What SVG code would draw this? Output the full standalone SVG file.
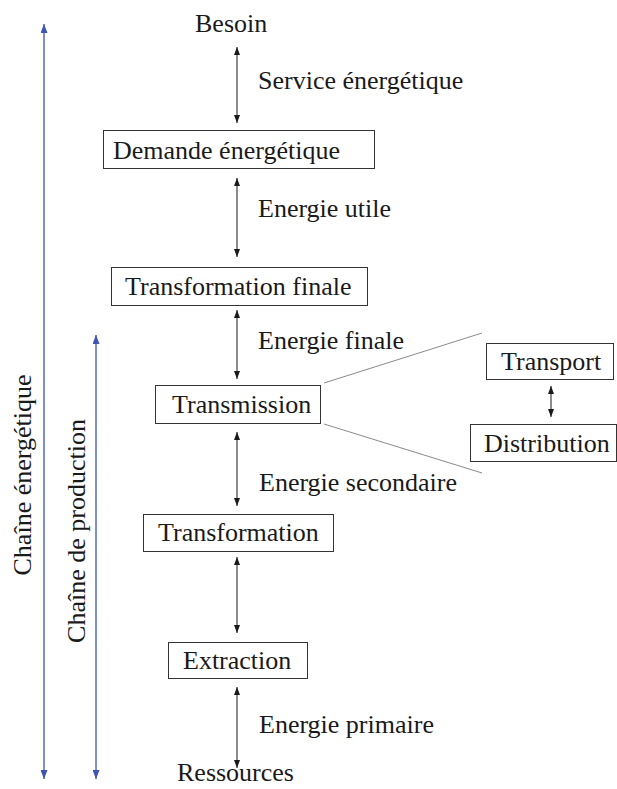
<svg xmlns="http://www.w3.org/2000/svg" width="617" height="789" viewBox="0 0 617 789" font-family="Liberation Serif, DejaVu Serif, serif">
  <style>
    text { font-family: 'Liberation Serif', 'DejaVu Serif', serif; }
    .t { font-size: 26px; fill: #1a1a1a; }
    .box { fill: #ffffff; stroke: #333333; stroke-width: 1; }
    .link { stroke: #1a1a1a; stroke-width: 1; fill: none; marker-start: url(#ah); marker-end: url(#ah); }
    .chain { stroke: #5468c0; stroke-width: 1.5; fill: none; marker-start: url(#bh); marker-end: url(#bh); }
    .side { stroke: #8a8a8a; stroke-width: 1; fill: none; }
  </style>
  <defs>
    <marker id="ah" viewBox="0 0 8 6" refX="8" refY="3" markerWidth="8" markerHeight="6" markerUnits="userSpaceOnUse" orient="auto-start-reverse">
      <path d="M0,0 L8,3 L0,6 Z" fill="#1a1a1a"/>
    </marker>
    <marker id="bh" viewBox="0 0 9 7" refX="9" refY="3.5" markerWidth="9" markerHeight="7" markerUnits="userSpaceOnUse" orient="auto-start-reverse">
      <path d="M0,0 L9,3.5 L0,7 Z" fill="#3f55b5"/>
    </marker>
  </defs>

  <!-- chain scope arrows -->
  <g id="chaine-energetique">
    <line class="chain" x1="44" y1="24" x2="44" y2="779"/>
    <text class="t" transform="translate(31,475) rotate(-90)" text-anchor="middle">Chaîne énergétique</text>
  </g>
  <g id="chaine-production">
    <line class="chain" x1="96" y1="335" x2="96" y2="779"/>
    <text class="t" transform="translate(85,531) rotate(-90)" text-anchor="middle">Chaîne de production</text>
  </g>

  <!-- connectors -->
  <g id="connectors">
    <line class="link" x1="237" y1="47" x2="237" y2="123"/>
    <line class="link" x1="237" y1="178" x2="237" y2="257"/>
    <line class="link" x1="237" y1="310" x2="237" y2="379"/>
    <line class="link" x1="237" y1="432" x2="237" y2="506"/>
    <line class="link" x1="237" y1="557" x2="237" y2="633"/>
    <line class="link" x1="237" y1="687" x2="237" y2="768"/>
    <line class="link" x1="551" y1="386" x2="551" y2="417"/>
    <line class="side" x1="324" y1="383" x2="482" y2="333"/>
    <line class="side" x1="324" y1="424" x2="482" y2="473"/>
  </g>

  <!-- edge labels -->
  <g id="labels">
    <text class="t" x="258" y="89">Service énergétique</text>
    <text class="t" x="258" y="217">Energie utile</text>
    <text class="t" x="258" y="349">Energie finale</text>
    <text class="t" x="259" y="491">Energie secondaire</text>
    <text class="t" x="259" y="733">Energie primaire</text>
  </g>

  <!-- nodes -->
  <g id="besoin">
    <text class="t" x="195" y="32">Besoin</text>
  </g>
  <g id="demande">
    <rect class="box" x="103.5" y="130.5" width="271" height="38"/>
    <text class="t" x="113" y="159">Demande énergétique</text>
  </g>
  <g id="transformation-finale">
    <rect class="box" x="111.5" y="267.5" width="256" height="38"/>
    <text class="t" x="125" y="295">Transformation finale</text>
  </g>
  <g id="transmission">
    <rect class="box" x="155.5" y="385.5" width="165" height="38"/>
    <text class="t" x="172" y="413">Transmission</text>
  </g>
  <g id="transport">
    <rect class="box" x="486.5" y="343.5" width="127" height="36"/>
    <text class="t" x="501" y="370">Transport</text>
  </g>
  <g id="distribution">
    <rect class="box" x="470.5" y="424.5" width="146" height="37"/>
    <text class="t" x="484" y="452">Distribution</text>
  </g>
  <g id="transformation">
    <rect class="box" x="143.5" y="514.5" width="190" height="37"/>
    <text class="t" x="158" y="541">Transformation</text>
  </g>
  <g id="extraction">
    <rect class="box" x="168.5" y="642.5" width="139" height="36"/>
    <text class="t" x="183" y="669">Extraction</text>
  </g>
  <g id="ressources">
    <text class="t" x="177" y="781">Ressources</text>
  </g>
</svg>
